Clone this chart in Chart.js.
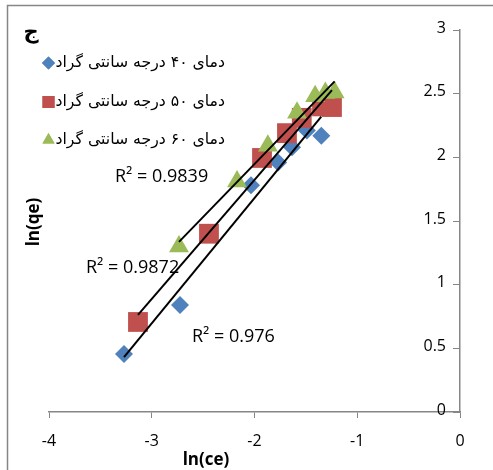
<!DOCTYPE html>
<html>
<head>
<meta charset="utf-8">
<script src="https://cdn.jsdelivr.net/npm/chart.js@4"></script>
<style>
  body { margin: 0; background: #fff; }
</style>
</head>
<body>
<canvas id="myChart" width="493" height="470"></canvas>
<script>
// data
const seriesNames = ['دمای ۴۰ درجه سانتی گراد', 'دمای ۵۰ درجه سانتی گراد', 'دمای ۶۰ درجه سانتی گراد'];

const x40 = [-3.27, -2.725, -2.034, -1.77, -1.635, -1.49, -1.35];
const y40 = [0.455, 0.84, 1.78, 1.96, 2.08, 2.21, 2.17];

const x50 = [-3.134, -2.443, -1.927, -1.684, -1.54, -1.343, -1.246];
const y50 = [0.707, 1.40, 1.995, 2.19, 2.31, 2.40, 2.395];

const x60 = [-2.735, -2.17, -1.87, -1.586, -1.41, -1.31, -1.22];
const y60 = [1.30, 1.81, 2.09, 2.35, 2.48, 2.505, 2.51];

const r2Text = ['R² = 0.976', 'R² = 0.9872', 'R² = 0.9839'];

const xTicks = [-4, -3, -2, -1, 0];
const yTicks = [0, 0.5, 1, 1.5, 2, 2.5, 3];

const colors = ['#4F81BD', '#C0504D', '#9BBB59'];
const axisGray = '#868686';
const numFont = '"Open Sans", Lato, sans-serif';
const faFont = '"DejaVu Sans", sans-serif';

function toPoints(xs, ys) {
  return xs.map((x, i) => ({ x: x, y: ys[i] }));
}

// least squares trendline, drawn from the first to the last x of a series
function trend(xs, ys) {
  const n = xs.length;
  const mx = xs.reduce((a, b) => a + b, 0) / n;
  const my = ys.reduce((a, b) => a + b, 0) / n;
  let sxy = 0, sxx = 0;
  for (let i = 0; i < n; i++) {
    sxy += (xs[i] - mx) * (ys[i] - my);
    sxx += (xs[i] - mx) * (xs[i] - mx);
  }
  const b = sxy / sxx;
  const a = my - b * mx;
  const lo = Math.min(...xs), hi = Math.max(...xs);
  return [{ x: lo, y: a + b * lo }, { x: hi, y: a + b * hi }];
}

function trendSet(xs, ys) {
  return {
    type: 'line',
    data: trend(xs, ys),
    borderColor: '#000',
    borderWidth: 2,
    pointRadius: 0,
    fill: false,
    order: 0
  };
}

const extras = {
  id: 'extras',
  beforeDraw(chart) {
    const c = chart.ctx;
    c.save();
    c.fillStyle = '#fff';
    c.fillRect(0, 0, chart.width, chart.height);
    c.strokeStyle = axisGray;
    c.lineWidth = 1.5;
    c.beginPath();
    c.moveTo(7.5, chart.height + 2);
    c.lineTo(7.5, 5.5);
    c.lineTo(chart.width + 2, 5.5);
    c.stroke();
    c.restore();
  },
  afterDraw(chart) {
    const c = chart.ctx;
    const ys = chart.scales.y, xs = chart.scales.x;
    c.save();
    c.fillStyle = '#000';

    // y tick labels, left of the axis that sits at x = 0
    c.font = '16px ' + numFont;
    c.textAlign = 'right';
    c.textBaseline = 'middle';
    const ax = xs.getPixelForValue(0);
    yTicks.forEach(v => c.fillText(String(v), ax - 14, ys.getPixelForValue(v) - 2));

    // panel letter
    c.font = 'bold 21px ' + faFont;
    c.textAlign = 'center';
    c.fillText('ج', 31, 33);

    // legend
    const rows = [63, 102, 140];
    const shapes = ['rectRot', 'rect', 'triangle'];
    const radii = [6.5, 8.5, 7];
    c.font = '15.7px ' + faFont;
    c.textAlign = 'right';
    for (let i = 0; i < 3; i++) {
      c.direction = 'rtl';
      c.fillText(seriesNames[i], 225, rows[i]);
      c.direction = 'ltr';
      const w = c.measureText(seriesNames[i]).width;
      c.fillStyle = colors[i];
      Chart.helpers.drawPoint(c, { pointStyle: shapes[i], radius: radii[i], rotation: 0, borderWidth: 0 }, 225 - w - 7, rows[i]);
      c.fill();
      c.fillStyle = '#000';
    }

    // R squared labels
    c.font = '18px ' + numFont;
    c.textAlign = 'left';
    c.fillText(r2Text[2], 115, 177);
    c.fillText(r2Text[1], 86, 268);
    c.fillText(r2Text[0], 192, 337);

    // axis titles
    c.font = 'bold 17px ' + numFont;
    c.textAlign = 'center';
    c.fillText('ln(ce)', 206, 460);
    c.translate(34, 222);
    c.rotate(-Math.PI / 2);
    c.fillText('ln(qe)', 0, 0);
    c.restore();
  }
};

Chart.defaults.font.family = numFont;
Chart.defaults.color = '#000';

new Chart(document.getElementById('myChart'), {
  type: 'scatter',
  data: {
    datasets: [
      trendSet(x40, y40),
      trendSet(x50, y50),
      trendSet(x60, y60),
      {
        label: seriesNames[2],
        data: toPoints(x60, y60),
        pointStyle: 'triangle',
        pointRadius: 11.5,
        backgroundColor: colors[2],
        borderWidth: 0,
        order: 1
      },
      {
        label: seriesNames[1],
        data: toPoints(x50, y50),
        pointStyle: 'rect',
        pointRadius: 14,
        backgroundColor: colors[1],
        borderWidth: 0,
        order: 2
      },
      {
        label: seriesNames[0],
        data: toPoints(x40, y40),
        pointStyle: 'rectRot',
        pointRadius: 9,
        backgroundColor: colors[0],
        borderWidth: 0,
        order: 3
      }
    ]
  },
  options: {
    responsive: false,
    animation: false,
    layout: { padding: { left: 49, right: 33, top: 30, bottom: 0 } },
    plugins: { legend: { display: false }, tooltip: { enabled: false } },
    scales: {
      x: {
        type: 'linear',
        position: 'bottom',
        min: -4,
        max: 0,
        afterBuildTicks: (s) => { s.ticks = xTicks.map(v => ({ value: v })); },
        afterFit: (s) => { s.height = 58; },
        ticks: { font: { size: 16 }, padding: 14, maxRotation: 0, callback: v => String(v) },
        grid: { drawOnChartArea: false, drawTicks: true, tickLength: 6, color: axisGray },
        border: { color: axisGray, width: 1.5 }
      },
      y: {
        type: 'linear',
        position: { x: 0 },
        min: 0,
        max: 3,
        afterBuildTicks: (s) => { s.ticks = yTicks.map(v => ({ value: v })); },
        ticks: { display: false },
        grid: { drawOnChartArea: false, drawTicks: true, tickLength: 6, color: axisGray },
        border: { color: axisGray, width: 1.5 }
      }
    }
  },
  plugins: [extras]
});
</script>
</body>
</html>
